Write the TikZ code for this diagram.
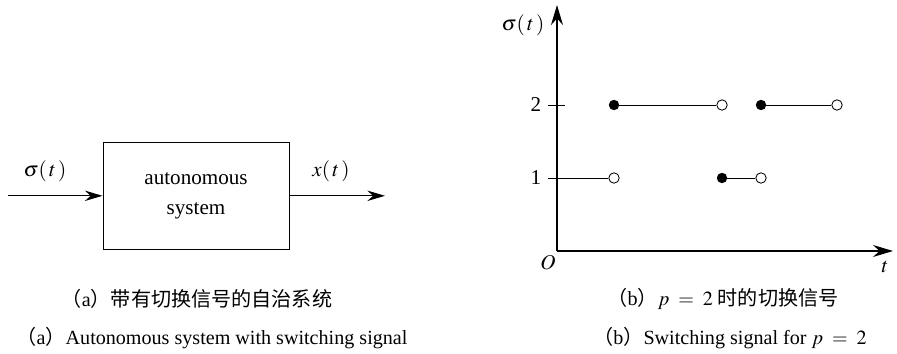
\documentclass[tikz,border=0pt]{standalone}
\usepackage{mathptmx}
\usepackage{fontspec}
\setmainfont{Liberation Serif}
\newfontfamily\cjk{Noto Sans CJK SC}
\usetikzlibrary{arrows.meta, positioning}

\begin{document}
\begin{tikzpicture}[
  blk/.style={draw, line width=0.7pt, minimum width=4.65cm, minimum height=2.675cm,
    align=center, font=\fontsize{15}{21}\selectfont},
  sig/.style={-{Stealth[length=4.4mm, width=2.6mm]}, line width=0.8pt},
  ax/.style={-{Stealth[length=5mm, width=3mm]}, line width=1pt},
  seg/.style={line width=0.6pt},
  full/.style={circle, fill, inner sep=0pt, minimum size=2.6mm},
  hollow/.style={circle, draw, fill=white, line width=0.6pt, inner sep=0pt, minimum size=2.6mm},
  lbl/.style={font=\fontsize{15}{18}\selectfont},
  captext/.style={font=\fontsize{14.3}{17}\selectfont}]
  \useasboundingbox (0,0) rectangle (22.425,8.825);
  % (a) the system block
  \node[blk] (sys) at (4.9,3.93) {autonomous\\system};
  \coordinate (in) at (0.2,3.93);
  \coordinate (out) at (9.625,3.93);
  \draw[sig] (in) -- (sys);
  \draw[sig] (sys) -- (out);
  \node[lbl] (sigin) at (1.125,4.55) {$\sigma(\,t\,)$};
  \node[lbl] (xout) at (8.275,4.55) {$x(\,t\,)$};
  % (b) the switching signal
  \coordinate (O) at (13.925,2.55);
  \coordinate (ytip) at (13.925,8.7);
  \coordinate (xtip) at (22.325,2.55);
  \draw[ax] (O) -- (ytip);
  \draw[ax] (O) -- (xtip);
  \node[lbl] (ylab) at (13.075,8.2) {$\sigma(\,t\,)$};
  \node[lbl] (olab) at (13.7,2.25) {$O$};
  \node[lbl] (tlab) at (22.125,2.15) {$t$};
  \coordinate (t2a) at (13.7,6.2);
  \coordinate (t2b) at (14.125,6.2);
  \coordinate (t1a) at (13.7,4.375);
  \node[lbl] (l2) at (13.4,6.2) {2};
  \node[lbl] (l1) at (13.4,4.375) {1};
  \draw[seg] (t2a) -- (t2b);
  % level 1
  \node[hollow] (a1) at (15.35,4.375) {};
  \node[full]   (b1) at (18.05,4.375) {};
  \node[hollow] (c1) at (19.025,4.375) {};
  \draw[seg] (t1a) -- (a1);
  \draw[seg] (b1) -- (c1);
  % level 2
  \node[full]   (a2) at (15.35,6.2) {};
  \node[hollow] (b2) at (18.05,6.2) {};
  \node[full]   (c2) at (19.025,6.2) {};
  \node[hollow] (d2) at (20.925,6.2) {};
  \draw[seg] (a2) -- (b2);
  \draw[seg] (c2) -- (d2);
  % captions
  \node[captext] (capa) at (4.925,1.35) {{\cjk （}a{\cjk ）带有切换信号的自治系统}};
  \node[captext] (capae) at (5.3,0.375) {{\cjk （}a{\cjk ）}Autonomous system with switching signal};
  \node[captext] (capb) at (18.075,1.35) {{\cjk （}b{\cjk ）}$p\;=\;2$\ {\cjk 时的切换信号}};
  \node[captext] (capbe) at (18.25,0.375) {{\cjk （}b{\cjk ）}Switching signal for $p\;=\;2$};
\end{tikzpicture}
\end{document}
